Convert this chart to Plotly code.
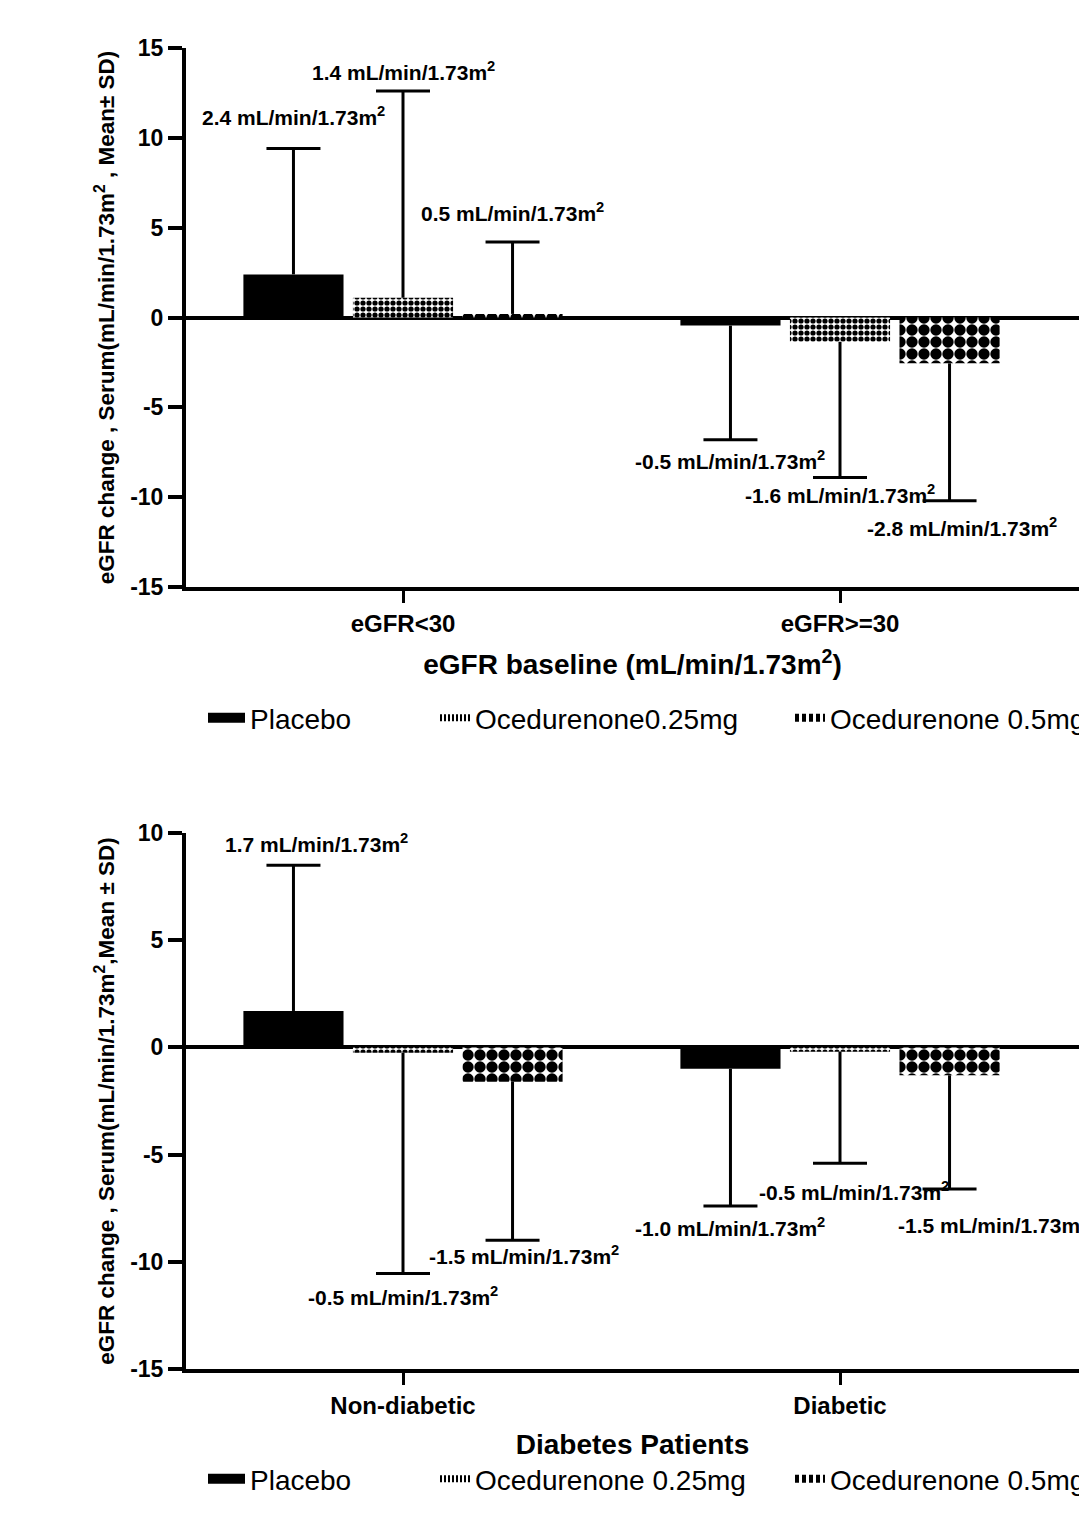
import plotly.graph_objects as go

# ---------------- data ----------------
groups = ["Placebo", "Ocedurenone 0.25mg", "Ocedurenone 0.5mg"]
legend_top = ["Placebo", "Ocedurenone0.25mg", "Ocedurenone 0.5mg"]
legend_bot = ["Placebo", "Ocedurenone 0.25mg", "Ocedurenone 0.5mg"]

cats_top = ["eGFR<30", "eGFR>=30"]
mean_top = {
    "Placebo": [2.4, -0.45],
    "Ocedurenone 0.25mg": [1.1, -1.35],
    "Ocedurenone 0.5mg": [0.2, -2.55],
}
sd_top = {
    "Placebo": [7.0, 6.35],
    "Ocedurenone 0.25mg": [11.5, 7.55],
    "Ocedurenone 0.5mg": [4.0, 7.65],
}
labels_top = {
    "Placebo": ["2.4", "-0.5"],
    "Ocedurenone 0.25mg": ["1.4", "-1.6"],
    "Ocedurenone 0.5mg": ["0.5", "-2.8"],
}

cats_bot = ["Non-diabetic", "Diabetic"]
mean_bot = {
    "Placebo": [1.7, -1.0],
    "Ocedurenone 0.25mg": [-0.25, -0.2],
    "Ocedurenone 0.5mg": [-1.6, -1.3],
}
sd_bot = {
    "Placebo": [6.8, 6.4],
    "Ocedurenone 0.25mg": [10.3, 5.2],
    "Ocedurenone 0.5mg": [7.4, 5.3],
}
labels_bot = {
    "Placebo": ["1.7", "-1.0"],
    "Ocedurenone 0.25mg": ["-0.5", "-0.5"],
    "Ocedurenone 0.5mg": ["-1.5", "-1.5"],
}

y_ticks_top = [-15, -10, -5, 0, 5, 10, 15]
y_ticks_bot = [-15, -10, -5, 0, 5, 10]

# label placement tweaks (pixels) relative to whisker end
lab_shift_top = {
    "Placebo": [(0, 33), (0, -20)],
    "Ocedurenone 0.25mg": [(0, 20), (0, -17)],
    "Ocedurenone 0.5mg": [(0, 30), (12, -26)],
}
lab_shift_bot = {
    "Placebo": [(23, 22), (0, -21)],
    "Ocedurenone 0.25mg": [(0, -22), (14, -28)],
    "Ocedurenone 0.5mg": [(11, -15), (43, -35)],
}

FONT = "Arial, Liberation Sans, sans-serif"
W, H = 1079, 1525
ML = 186
PW = W - ML
BARGAP = 0.248
GROUPGAP = 0.086
slot = (1 - BARGAP) / 3
CAP = 27 / 437  # half cap width in category units

styles = {
    "Placebo": dict(color="black"),
    "Ocedurenone 0.25mg": dict(color="white",
                               pattern=dict(shape=".", size=6, solidity=0.6,
                                            fgcolor="black", bgcolor="white", fillmode="replace")),
    "Ocedurenone 0.5mg": dict(color="white",
                              pattern=dict(shape=".", size=12, solidity=0.7,
                                           fgcolor="black", bgcolor="white", fillmode="replace")),
}
leg_sym = {
    "Placebo": dict(color="black", width=10, dash="solid"),
    "Ocedurenone 0.25mg": dict(color="black", width=7, dash="2px,2px"),
    "Ocedurenone 0.5mg": dict(color="black", width=8, dash="4px,3px"),
}
leg_itemw = {"Placebo": 37, "Ocedurenone 0.25mg": 30, "Ocedurenone 0.5mg": 30}

fig = go.Figure()

def add_panel(xa, ya, means, sds, labels, shifts, leg_names, leg_ids):
    wx, wy = [], []
    for i, g in enumerate(groups):
        m = means[g]
        s = sds[g]
        fig.add_trace(go.Bar(
            x=[0, 1], y=m, name=leg_names[i], xaxis=xa, yaxis=ya,
            showlegend=False, offsetgroup=str(i),
            marker=dict(line=dict(width=0), **styles[g]),
        ))
        fig.add_trace(go.Scatter(
            x=[None], y=[None], mode="lines", name=leg_names[i], xaxis=xa, yaxis=ya,
            legend=leg_ids[i], line=leg_sym[g], showlegend=True,
        ))
        for j in range(2):
            xc = j + (i - 1) * slot
            end = m[j] + s[j] if m[j] >= 0 else m[j] - s[j]
            wx += [xc, xc, None, xc - CAP, xc + CAP, None]
            wy += [m[j], end, None, end, end, None]
            dx, dy = shifts[g][j]
            fig.add_annotation(
                x=xc, y=end, xref=xa, yref=ya,
                text=f"{labels[g][j]} mL/min/1.73m<sup>2</sup>",
                showarrow=False, xshift=dx, yshift=dy,
                font=dict(family=FONT, size=21, color="black", weight="bold"),
            )
    fig.add_trace(go.Scatter(x=wx, y=wy, mode="lines", xaxis=xa, yaxis=ya,
                             line=dict(color="black", width=3), showlegend=False,
                             hoverinfo="skip"))

add_panel("x", "y", mean_top, sd_top, labels_top, lab_shift_top, legend_top,
          ["legend", "legend2", "legend3"])
add_panel("x2", "y2", mean_bot, sd_bot, labels_bot, lab_shift_bot, legend_bot,
          ["legend4", "legend5", "legend6"])

x_left = -(403 - ML) / 437
x_right = (W - 403) / 437

axis_common = dict(showline=True, linecolor="black", linewidth=4, mirror=False,
                   showgrid=False, ticks="outside", tickcolor="black")

def xaxis(cats, title, anchor, standoff):
    return dict(**axis_common, tickwidth=3, ticklen=12, range=[x_left, x_right],
                tickvals=[0, 1], ticktext=cats, anchor=anchor,
                tickfont=dict(family=FONT, size=24, color="black", weight="bold"),
                title=dict(text=title, standoff=standoff,
                           font=dict(family=FONT, size=28, color="black", weight="bold")),
                zeroline=False)

def yaxis(rng, ticks, title, domain, anchor):
    return dict(**axis_common, tickwidth=4, ticklen=14, range=rng, domain=domain,
                tickvals=ticks, ticktext=[str(v) for v in ticks],
                anchor=anchor, zeroline=True, zerolinecolor="black", zerolinewidth=4,
                tickfont=dict(family=FONT, size=23, color="black", weight="bold"),
                title=dict(text=title, standoff=10,
                           font=dict(family=FONT, size=22.5, color="black", weight="bold")))

top_dom = [1 - 587 / H, 1 - 48 / H]
bot_dom = [1 - 1369 / H, 1 - 833 / H]

leg_font = dict(family=FONT, size=28, color="black")
def leg(text_px, ypx, itemw):
    item_px = text_px - itemw - 10
    return dict(x=(item_px - ML) / PW, y=1 - ypx / H, xanchor="left", yanchor="middle",
                orientation="h", font=leg_font, bgcolor="rgba(0,0,0,0)",
                borderwidth=0, itemwidth=itemw)

fig.update_layout(
    width=W, height=H,
    margin=dict(l=ML, r=0, t=0, b=0, autoexpand=False),
    paper_bgcolor="white", plot_bgcolor="white",
    barmode="group", bargap=BARGAP, bargroupgap=GROUPGAP,
    xaxis=xaxis(cats_top, "eGFR baseline (mL/min/1.73m<sup>2</sup>)", "y", 20),
    yaxis=yaxis([-15, 15], y_ticks_top,
                "eGFR change , Serum(mL/min/1.73m<sup>2</sup> , Mean± SD)", top_dom, "x"),
    xaxis2=xaxis(cats_bot, "Diabetes Patients", "y2", 18),
    yaxis2=yaxis([-15, 10], y_ticks_bot,
                 "eGFR change , Serum(mL/min/1.73m<sup>2</sup>,Mean ± SD)", bot_dom, "x2"),
    legend=leg(250, 718, leg_itemw["Placebo"]),
    legend2=leg(475, 718, leg_itemw["Ocedurenone 0.25mg"]),
    legend3=leg(830, 718, leg_itemw["Ocedurenone 0.5mg"]),
    legend4=leg(250, 1479, leg_itemw["Placebo"]),
    legend5=leg(475, 1479, leg_itemw["Ocedurenone 0.25mg"]),
    legend6=leg(830, 1479, leg_itemw["Ocedurenone 0.5mg"]),
    showlegend=True,
)

fig.write_html("out.html")
